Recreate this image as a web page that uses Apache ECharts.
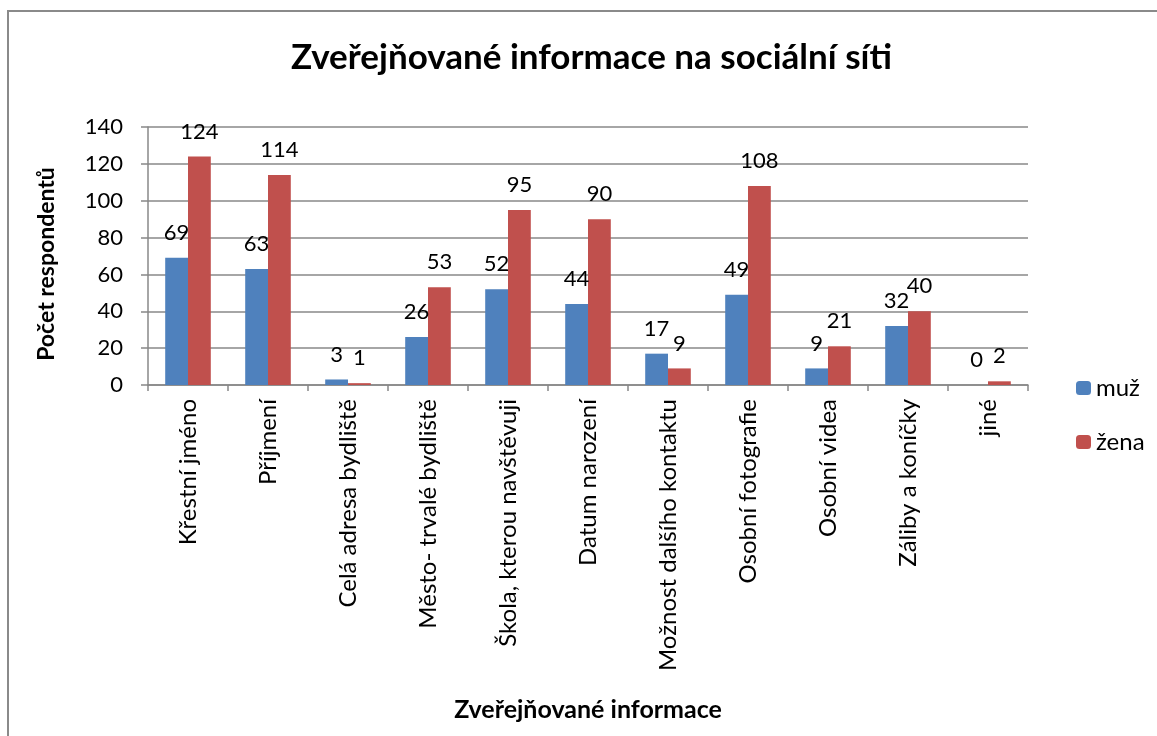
<!DOCTYPE html>
<html><head><meta charset="utf-8">
<script src="https://cdn.jsdelivr.net/npm/echarts@6/dist/echarts.min.js"></script>
<style>html,body{margin:0;padding:0;background:#fff}#c{width:1157px;height:736px}</style>
</head><body><div id="c"></div>
<script>
const categories = ["Křestní jméno","Příjmení","Celá adresa bydliště","Město- trvalé bydliště","Škola, kterou navštěvuji","Datum narození","Možnost dalšího kontaktu","Osobní fotografie","Osobní videa","Záliby a koníčky","jiné"];
const muz = [69,63,3,26,52,44,17,49,9,32,0];
const zena = [124,114,1,53,95,90,9,108,21,40,2];
const yTicks = {min:0,max:140,interval:20};
const FONT = 'Lato, "Open Sans", sans-serif';
const chart = echarts.init(document.getElementById('c'));
const lbl = {show:true,position:'top',distance:14,fontSize:22,color:'#000',fontFamily:FONT};
chart.setOption({
  animation:false,
  textStyle:{fontFamily:FONT},
  graphic:[{type:'rect',shape:{x:8,y:11,width:1200,height:800},style:{fill:'none',stroke:'#8a8a8a',lineWidth:2},z:-1}],
  title:{text:'Zveřejňované informace na sociální síti',left:286,top:35,textStyle:{fontSize:35,fontWeight:'bold',color:'#000',fontFamily:FONT}},
  legend:{orient:'vertical',left:1071,top:371,itemWidth:15,itemHeight:14,itemGap:30,textStyle:{fontSize:24,color:'#000',fontFamily:FONT},data:['muž','žena']},
  grid:{left:148,right:129,top:127,bottom:351,containLabel:false},
  xAxis:{type:'category',data:categories,name:'Zveřejňované informace',nameLocation:'middle',nameGap:312,
    nameTextStyle:{fontSize:25,fontWeight:'bold',color:'#000',fontFamily:FONT},
    axisLine:{lineStyle:{color:'#888',width:1.5}},axisTick:{show:true,length:6,lineStyle:{color:'#888',width:1.5}},
    axisLabel:{rotate:90,fontSize:24,color:'#000',margin:14,fontFamily:FONT,interval:0}},
  yAxis:{type:'value',min:yTicks.min,max:yTicks.max,interval:yTicks.interval,name:'Počet respondentů',nameLocation:'middle',nameGap:90,
    nameTextStyle:{fontSize:23,fontWeight:'bold',color:'#000',fontFamily:FONT,padding:[0,16,0,0]},
    axisLine:{show:true,lineStyle:{color:'#888',width:1.5}},axisTick:{show:true,length:7,lineStyle:{color:'#888',width:1.5}},
    splitLine:{lineStyle:{color:'#888',width:1.5}},
    axisLabel:{fontSize:22,color:'#000',margin:25,fontFamily:FONT}},
  series:[
    {name:'muž',type:'bar',data:muz,barGap:'0%',barCategoryGap:'43%',itemStyle:{color:'#4F81BD'},label:lbl},
    {name:'žena',type:'bar',data:zena,barGap:'0%',barCategoryGap:'43%',itemStyle:{color:'#C0504D'},label:lbl}
  ]
});
</script></body></html>
